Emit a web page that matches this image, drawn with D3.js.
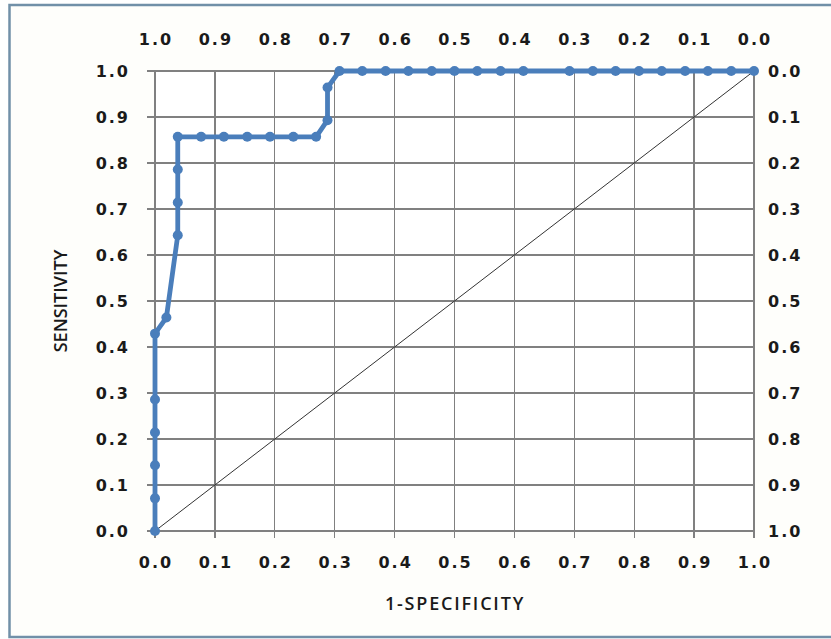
<!DOCTYPE html>
<html><head><meta charset="utf-8">
<script src="https://cdn.jsdelivr.net/npm/d3@7"></script>
<style>
html,body{margin:0;padding:0;background:#fff;}
svg{display:block;}
</style></head>
<body>
<svg id="chart" width="831" height="639"></svg>
<script>
// ROC curve data
const fpr = [0,0,0,0,0,0,0.019,0.038,0.038,0.038,0.038,0.077,0.115,0.154,0.192,0.231,0.269,0.288,0.288,0.308,0.346,0.385,0.423,0.462,0.5,0.538,0.577,0.615,0.692,0.731,0.769,0.808,0.846,0.885,0.923,0.962,1.0];
const sensitivity = [0,0.071,0.143,0.214,0.286,0.429,0.464,0.643,0.714,0.786,0.857,0.857,0.857,0.857,0.857,0.857,0.857,0.893,0.964,1,1,1,1,1,1,1,1,1,1,1,1,1,1,1,1,1,1];
const tickValues = [0,0.1,0.2,0.3,0.4,0.5,0.6,0.7,0.8,0.9,1.0];
const xTitle = "1-SPECIFICITY";
const yTitle = "SENSITIVITY";

(function(){
const svg = d3.select("#chart");
const W = 831, H = 639;
const pL = 155, pR = 754, pT = 71, pB = 531;

svg.append("rect").attr("x",0).attr("y",0).attr("width",W).attr("height",H).attr("fill","#ffffff");
svg.append("rect").attr("x",9.5).attr("y",5).attr("width",840).attr("height",632)
  .attr("fill","#fefefb").attr("stroke","#7190a8").attr("stroke-width",2.5);

const x = d3.scaleLinear().domain([0,1]).range([pL,pR]);
const y = d3.scaleLinear().domain([0,1]).range([pB,pT]);
const xTop = d3.scaleLinear().domain([1,0]).range([pL,pR]);
const yRight = d3.scaleLinear().domain([1,0]).range([pB,pT]);

svg.append("rect").attr("x",pL).attr("y",pT).attr("width",pR-pL).attr("height",pB-pT).attr("fill","#ffffff");

const gridColor = "#808080";
svg.append("g").selectAll("line").data(tickValues).join("line")
  .attr("x1",d=>x(d)).attr("x2",d=>x(d)).attr("y1",pT).attr("y2",pB+7)
  .attr("stroke",gridColor).attr("stroke-width",1.3).attr("shape-rendering","crispEdges");
svg.append("g").selectAll("line").data(tickValues).join("line")
  .attr("y1",d=>y(d)).attr("y2",d=>y(d)).attr("x1",pL-8).attr("x2",pR)
  .attr("stroke",gridColor).attr("stroke-width",1.3).attr("shape-rendering","crispEdges");

const fmt = d3.format(".1f");
const labelStyle = sel => sel.attr("font-family","'DejaVu Sans', Verdana, sans-serif")
  .attr("font-size",16).attr("font-weight","bold").attr("fill","#1a1a1a").attr("letter-spacing","2px");

svg.append("g").selectAll("text").data(tickValues).join("text")
  .attr("x",130).attr("y",d=>y(d)).attr("dy","0.36em").attr("text-anchor","end")
  .text(d=>fmt(d)).call(labelStyle);
svg.append("g").selectAll("text").data(tickValues).join("text")
  .attr("x",768).attr("y",d=>yRight(d)).attr("dy","0.36em").attr("text-anchor","start")
  .text(d=>fmt(d)).call(labelStyle);
svg.append("g").selectAll("text").data(tickValues).join("text")
  .attr("x",d=>x(d)+1).attr("y",568).attr("text-anchor","middle")
  .text(d=>fmt(d)).call(labelStyle);
svg.append("g").selectAll("text").data(tickValues).join("text")
  .attr("x",d=>xTop(d)+1).attr("y",45).attr("text-anchor","middle")
  .text(d=>fmt(d)).call(labelStyle);

svg.append("text").attr("x",455).attr("y",610).attr("text-anchor","middle")
  .attr("font-family","'Open Sans', 'DejaVu Sans', sans-serif").attr("font-size",18).attr("font-weight","600")
  .attr("letter-spacing","1.8px").attr("fill","#1a1a1a").text(xTitle);
svg.append("text").attr("transform","translate(67,301) rotate(-90)").attr("text-anchor","middle")
  .attr("font-family","'Open Sans', 'DejaVu Sans', sans-serif").attr("font-size",18).attr("font-weight","600")
  .attr("fill","#1a1a1a").text(yTitle);

svg.append("line").attr("x1",x(0)).attr("y1",y(0)).attr("x2",x(1)).attr("y2",y(1))
  .attr("stroke","#333").attr("stroke-width",1);

const pts = fpr.map((f,i)=>[f,sensitivity[i]]);
const line = d3.line().x(d=>x(d[0])).y(d=>y(d[1]));
svg.append("path").datum(pts).attr("d",line).attr("fill","none")
  .attr("stroke","#4a7ebb").attr("stroke-width",4.8).attr("stroke-linejoin","round");
svg.append("g").selectAll("circle").data(pts).join("circle")
  .attr("cx",d=>x(d[0])).attr("cy",d=>y(d[1])).attr("r",5).attr("fill","#4a7ebb");
})();
</script>
</body></html>
